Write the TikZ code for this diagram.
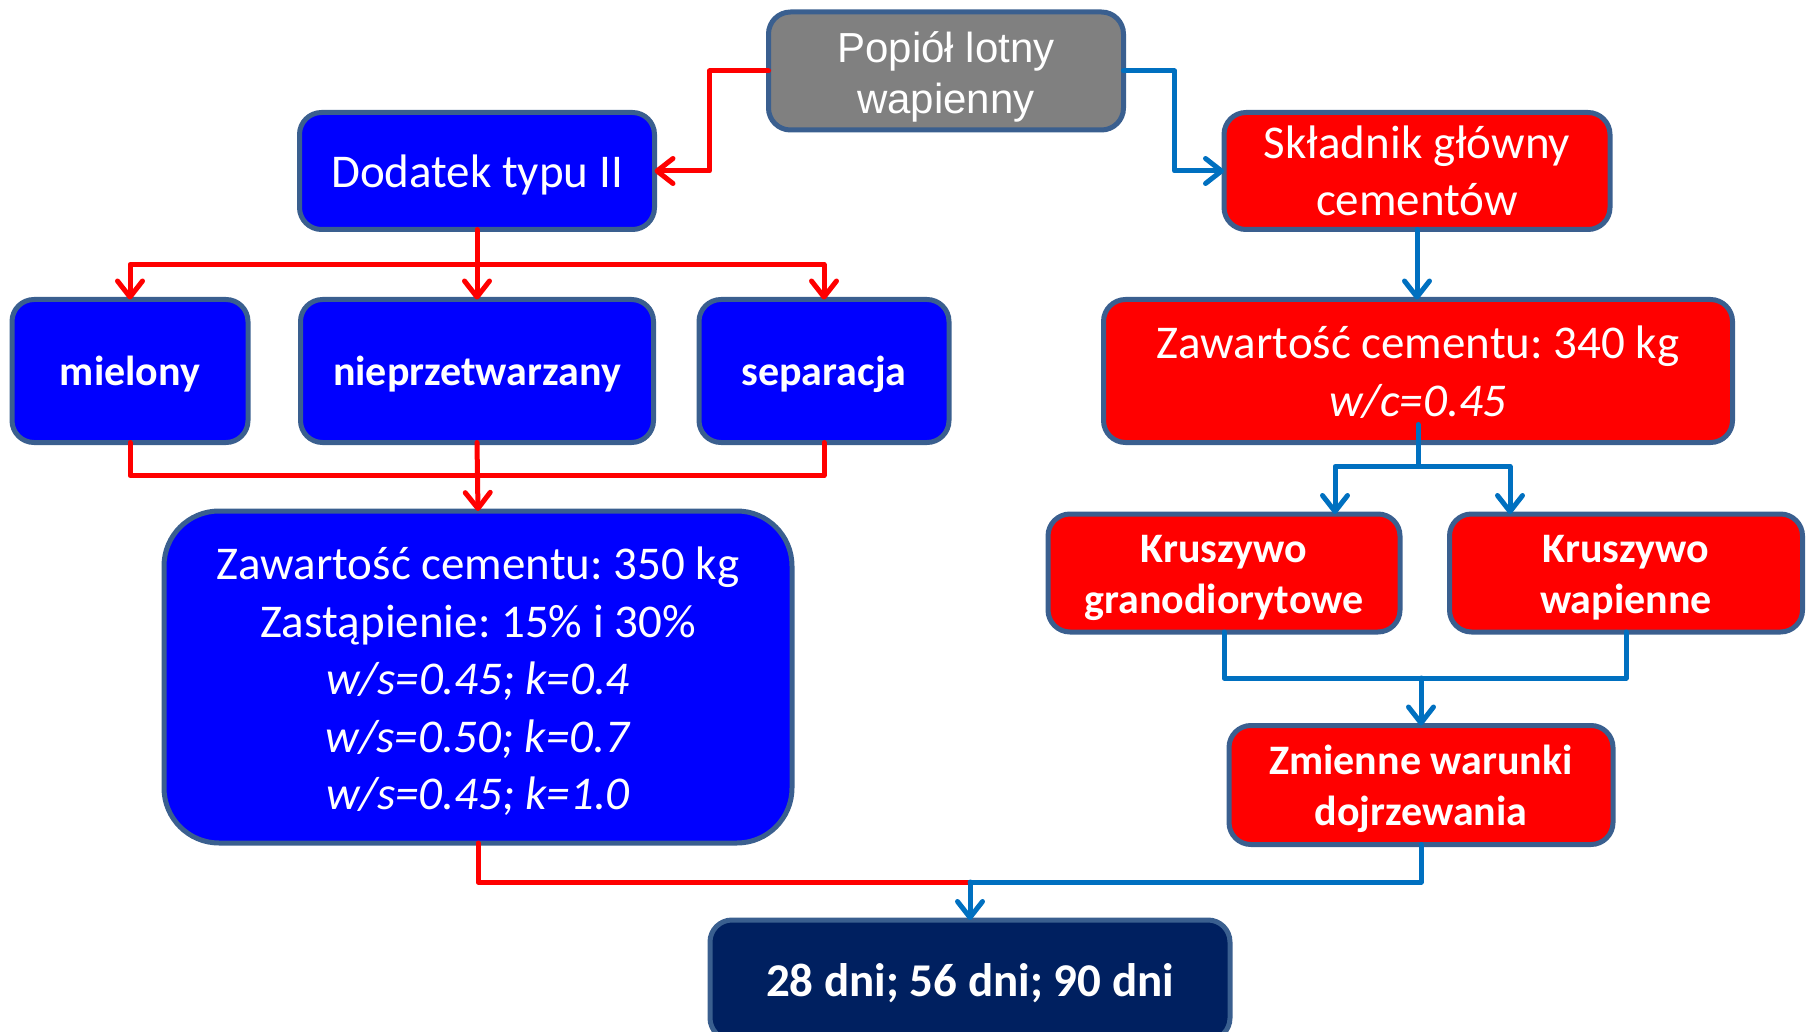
\documentclass[tikz,border=0pt]{standalone}
\usepackage{fontspec}
\setmainfont{Carlito}
\newfontfamily\arialf{Liberation Sans}
\usetikzlibrary{arrows.meta,calc}
\frenchspacing
\definecolor{bordc}{HTML}{3A5F8F}
\definecolor{bluefill}{HTML}{0000FF}
\definecolor{redfill}{HTML}{FF0000}
\definecolor{grayfill}{HTML}{808080}
\definecolor{navyfill}{HTML}{002060}
\definecolor{lineblue}{HTML}{0070C0}
\definecolor{linered}{HTML}{FF0000}
% push the text of a node down by #1 (adds 2*#1 to the first line's height)
\newcommand\dn[2]{\setbox0=\hbox{#2}\rule{0pt}{\dimexpr\ht0+#1*2\relax}\box0}
\tikzset{
  box/.style={draw=bordc, line width=5pt, rounded corners=22pt, text=white, align=center, inner sep=0pt, outer sep=0pt},
  regtext/.style={font=\fontsize{47}{57.5}\selectfont},
  boldtext/.style={font=\fontsize{42}{51}\selectfont\bfseries},
  conn/.style={line width=5pt, line join=round, line cap=round},
  redline/.style={conn, draw=linered},
  blueline/.style={conn, draw=lineblue},
  tipped/.style={-{Straight Barb[length=16pt,width=25pt,round]}},
}
\begin{document}
\begin{tikzpicture}[x=1pt,y=-1pt]
\useasboundingbox (0,0) rectangle (1808,1032);
\clip (0,0) rectangle (1808,1032);
% nodes
\node[box, fill=grayfill, minimum width=355pt, minimum height=118pt, font=\arialf\fontsize{42}{51}\selectfont] (pop) at (946,71) {\dn{6pt}{Popiół lotny}\\wapienny};
\node[box, fill=bluefill, regtext, minimum width=355pt, minimum height=117pt] (dod) at (477,171) {\dn{3.5pt}{Dodatek typu II}};
\node[box, fill=redfill, regtext, minimum width=386pt, minimum height=117pt] (skl) at (1417,171) {Składnik główny\\cementów};
\node[box, fill=bluefill, boldtext, minimum width=236pt, minimum height=143pt] (miel) at (130,371) {\dn{3.5pt}{mielony}};
\node[box, fill=bluefill, boldtext, minimum width=353pt, minimum height=143pt] (niep) at (477,371) {\dn{3.5pt}{nieprzetwarzany}};
\node[box, fill=bluefill, boldtext, minimum width=250pt, minimum height=143pt] (sep) at (824,371) {\dn{3.5pt}{separacja}};
\node[box, fill=bluefill, regtext, rounded corners=55pt, minimum width=628pt, minimum height=332pt] (big) at (478,677) {\dn{4.5pt}{Zawartość cementu: 350 kg}\\Zastąpienie: 15\% i 30\%\\\textit{w/s=0.45; k=0.4}\\\textit{w/s=0.50; k=0.7}\\\textit{w/s=0.45; k=1.0}};
\node[box, fill=redfill, regtext, minimum width=629pt, minimum height=143pt] (z340) at (1418,371) {\dn{1pt}{Zawartość cementu: 340 kg}\\\textit{w/c=0.45}};
\node[box, fill=redfill, boldtext, minimum width=352pt, minimum height=118pt] (kg) at (1224,573) {\dn{5pt}{Kruszywo}\\granodiorytowe};
\node[box, fill=redfill, boldtext, minimum width=353pt, minimum height=118pt] (kw) at (1626,573) {\dn{5pt}{Kruszywo}\\wapienne};
\node[box, fill=redfill, boldtext, minimum width=384pt, minimum height=119pt] (zm) at (1421,785) {\dn{3.5pt}{Zmienne warunki}\\dojrzewania};
\node[box, fill=navyfill, font=\fontsize{47}{57}\selectfont\bfseries, minimum width=520pt, minimum height=120pt] (dni) at (970,980) {\dn{3.5pt}{28 dni; 56 dni; 90 dni}};
% connectors top
\draw[redline, tipped] (pop.west) -- ++(-59,0) |- (dod.east);
\draw[blueline, tipped] (pop.east) -- ++(51,0) |- (skl.west);
% dodatek split
\draw[redline] (dod.south) -- ++(0,35) coordinate (dj);
\draw[redline, tipped] (dj) -| (miel.north);
\draw[redline, tipped] (dj) -| (sep.north);
\draw[redline, tipped] (dj) -- (niep.north);
% merge to big
\draw[redline] (miel.south) -- ++(0,33) -| (sep.south);
\draw[redline, tipped] (niep.south) -- (big.north);
% right column
\draw[blueline, tipped] (skl.south) -- (skl.south |- z340.north);
\draw[blueline] ($(z340.south)+(0,-18)$) -- ++(0,42) coordinate (bj);
\draw[blueline, tipped] (bj) -| ($(kg.north)+(111,0)$);
\draw[blueline, tipped] (bj) -| ($(kw.north)+(-116,0)$);
\draw[blueline] (kg.south) -- ++(0,46) coordinate (kj) -| (kw.south);
\draw[blueline, tipped] (kj -| zm.north) -- (zm.north);
% bottom merge
\path (dni.north) ++(0,-38) coordinate (mj);
\draw[redline] (big.south) |- (mj);
\draw[blueline] (zm.south) |- (mj);
\draw[blueline, tipped] (mj) -- (dni.north);
\end{tikzpicture}
\end{document}
